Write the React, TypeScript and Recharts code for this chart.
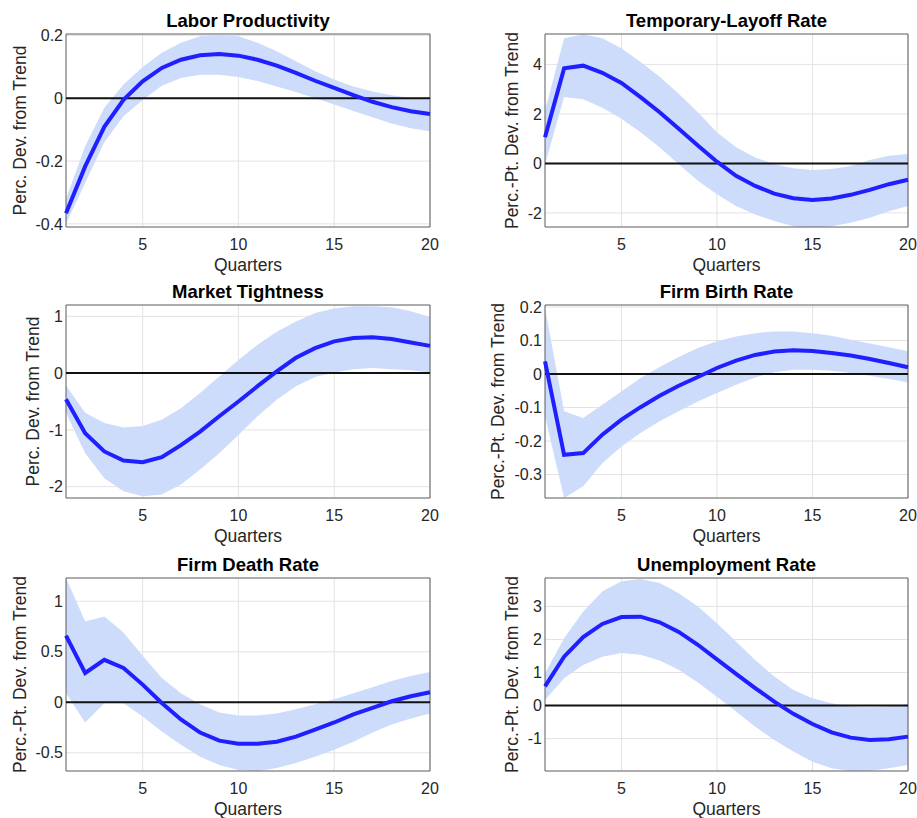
import React from "react";
import {
  Area,
  CartesianGrid,
  ComposedChart,
  Line,
  ReferenceArea,
  ReferenceLine,
  XAxis,
  YAxis,
} from "recharts";

const quarters = [1, 2, 3, 4, 5, 6, 7, 8, 9, 10, 11, 12, 13, 14, 15, 16, 17, 18, 19, 20];
const quarterTicks = [5, 10, 15, 20];

const laborMid = [-0.366, -0.217, -0.091, -0.005, 0.054, 0.097, 0.123, 0.137, 0.141, 0.136, 0.123, 0.104, 0.081, 0.056, 0.033, 0.01, -0.011, -0.028, -0.041, -0.05];
const laborHi = [-0.32, -0.153, -0.03, 0.044, 0.1, 0.145, 0.177, 0.198, 0.203, 0.198, 0.177, 0.15, 0.118, 0.086, 0.06, 0.038, 0.022, 0.01, 0.001, -0.004];
const laborLo = [-0.4, -0.27, -0.14, -0.057, -0.005, 0.04, 0.065, 0.075, 0.075, 0.068, 0.055, 0.038, 0.02, 0.0, -0.02, -0.04, -0.06, -0.08, -0.095, -0.105];

const layoffMid = [1.06, 3.84, 3.95, 3.66, 3.25, 2.68, 2.07, 1.4, 0.72, 0.07, -0.5, -0.91, -1.22, -1.41, -1.48, -1.42, -1.27, -1.07, -0.84, -0.66];
const layoffHi = [2.14, 5.06, 5.22, 5.06, 4.65, 4.1, 3.5, 2.82, 2.07, 1.26, 0.65, 0.24, -0.03, -0.2, -0.27, -0.23, -0.1, 0.14, 0.31, 0.38];
const layoffLo = [-0.03, 2.68, 2.59, 2.25, 1.8, 1.26, 0.65, -0.03, -0.7, -1.25, -1.72, -2.06, -2.33, -2.54, -2.6, -2.54, -2.4, -2.2, -1.93, -1.72];

const tightMid = [-0.46, -1.06, -1.38, -1.54, -1.57, -1.48, -1.27, -1.03, -0.76, -0.5, -0.23, 0.03, 0.27, 0.44, 0.56, 0.62, 0.63, 0.6, 0.54, 0.48];
const tightHi = [-0.22, -0.7, -0.88, -0.96, -0.93, -0.82, -0.62, -0.35, -0.06, 0.23, 0.5, 0.73, 0.91, 1.06, 1.14, 1.18, 1.18, 1.16, 1.09, 0.99];
const tightLo = [-0.7, -1.41, -1.85, -2.08, -2.17, -2.14, -1.96, -1.7, -1.41, -1.09, -0.76, -0.47, -0.23, -0.07, 0.01, 0.07, 0.09, 0.07, 0.05, 0.01];

const birthMid = [0.038, -0.241, -0.236, -0.181, -0.136, -0.099, -0.065, -0.035, -0.009, 0.018, 0.04, 0.057, 0.067, 0.071, 0.069, 0.063, 0.055, 0.045, 0.033, 0.02];
const birthHi = [0.197, -0.111, -0.131, -0.092, -0.052, -0.012, 0.021, 0.051, 0.078, 0.098, 0.112, 0.122, 0.127, 0.127, 0.122, 0.114, 0.102, 0.091, 0.08, 0.068];
const birthLo = [-0.126, -0.37, -0.335, -0.266, -0.216, -0.176, -0.141, -0.111, -0.082, -0.057, -0.032, -0.01, 0.005, 0.013, 0.013, 0.01, 0.003, -0.005, -0.015, -0.025];

const deathMid = [0.66, 0.29, 0.42, 0.34, 0.175, -0.007, -0.17, -0.3, -0.38, -0.41, -0.41, -0.39, -0.34, -0.27, -0.2, -0.12, -0.056, 0.01, 0.06, 0.1];
const deathHi = [1.23, 0.8, 0.85, 0.69, 0.46, 0.24, 0.09, -0.02, -0.1, -0.13, -0.13, -0.11, -0.07, -0.02, 0.03, 0.09, 0.15, 0.21, 0.26, 0.3];
const deathLo = [0.09, -0.2, -0.01, -0.01, -0.14, -0.29, -0.42, -0.54, -0.62, -0.67, -0.68, -0.65, -0.6, -0.54, -0.47, -0.39, -0.3, -0.22, -0.16, -0.11];

const unempMid = [0.58, 1.48, 2.07, 2.47, 2.68, 2.69, 2.52, 2.23, 1.84, 1.4, 0.96, 0.53, 0.12, -0.25, -0.56, -0.81, -0.97, -1.04, -1.02, -0.94];
const unempHi = [0.98, 2.04, 2.85, 3.45, 3.76, 3.83, 3.71, 3.4, 3.0, 2.49, 1.94, 1.38, 0.88, 0.47, 0.22, 0.07, -0.03, -0.05, -0.03, 0.05];
const unempLo = [0.17, 0.83, 1.23, 1.48, 1.59, 1.54, 1.36, 1.08, 0.7, 0.27, -0.18, -0.64, -1.04, -1.39, -1.7, -1.9, -1.98, -1.97, -1.9, -1.8];

const FONT = "'Liberation Sans', Arial, Helvetica, sans-serif";
const TEXT = "#262626";

type Panel = {
  title: string;
  yLabel: string;
  domain: [number, number];
  ticks: number[];
  mid: number[];
  lo: number[];
  hi: number[];
  labelOffset: number;
  col: number;
  row: number;
};

const panels: Panel[] = [
  { title: "Labor Productivity", yLabel: "Perc. Dev. from Trend", domain: [-0.41, 0.205], ticks: [-0.4, -0.2, 0, 0.2], mid: laborMid, lo: laborLo, hi: laborHi, labelOffset: 20, col: 0, row: 0 },
  { title: "Temporary-Layoff Rate", yLabel: "Perc.-Pt. Dev. from Trend", domain: [-2.57, 5.23], ticks: [-2, 0, 2, 4], mid: layoffMid, lo: layoffLo, hi: layoffHi, labelOffset: 33, col: 1, row: 0 },
  { title: "Market Tightness", yLabel: "Perc. Dev. from Trend", domain: [-2.2, 1.2], ticks: [-2, -1, 0, 1], mid: tightMid, lo: tightLo, hi: tightHi, labelOffset: 33, col: 0, row: 1 },
  { title: "Firm Birth Rate", yLabel: "Perc.-Pt. Dev. from Trend", domain: [-0.37, 0.206], ticks: [-0.3, -0.2, -0.1, 0, 0.1, 0.2], mid: birthMid, lo: birthLo, hi: birthHi, labelOffset: 19, col: 1, row: 1 },
  { title: "Firm Death Rate", yLabel: "Perc.-Pt. Dev. from Trend", domain: [-0.68, 1.23], ticks: [-0.5, 0, 0.5, 1], mid: deathMid, lo: deathLo, hi: deathHi, labelOffset: 20, col: 0, row: 2 },
  { title: "Unemployment Rate", yLabel: "Perc.-Pt. Dev. from Trend", domain: [-1.98, 3.86], ticks: [-1, 0, 1, 2, 3], mid: unempMid, lo: unempLo, hi: unempHi, labelOffset: 33, col: 1, row: 2 },
];

const colLeft = [0, 479];
const colWidth = [440, 438];
const rowTop = [0, 271, 544];
const CHART_H = 280;
const BOTTOM = 8;
const Y_W = 66;
const X_H = 45;
const TOP = 34;

function IrfPanel({ p }: { p: Panel }) {
  const data = quarters.map((q, i) => ({ q, mid: p.mid[i], band: [p.lo[i], p.hi[i]] }));
  const left = colLeft[p.col];
  const width = colWidth[p.col];
  const right = p.col === 0 ? 10 : 9;
  const top = rowTop[p.row];
  const plotLeft = left + Y_W;
  const plotWidth = width - Y_W - right;
  return (
    <>
      <div
        style={{
          position: "absolute",
          left: plotLeft,
          top: top + 12,
          width: plotWidth,
          textAlign: "center",
          fontFamily: FONT,
          fontWeight: "bold",
          fontSize: 18.5,
          lineHeight: "18.5px",
          color: "#000",
          whiteSpace: "nowrap",
        }}
      >
        {p.title}
      </div>
      <div style={{ position: "absolute", left, top }}>
        <ComposedChart
          width={width}
          height={CHART_H}
          data={data}
          margin={{ top: TOP, right, bottom: BOTTOM, left: 0 }}
        >
          <CartesianGrid stroke="#e3e3e3" strokeWidth={1} horizontalValues={p.ticks} verticalValues={quarterTicks} />
          <XAxis
            dataKey="q"
            type="number"
            domain={[1, 20]}
            ticks={quarterTicks}
            height={X_H}
            tickSize={0}
            tickMargin={12}
            axisLine={false}
            tickLine={false}
            tick={{ fill: TEXT, fontSize: 16, fontFamily: FONT }}
            label={{ value: "Quarters", position: "insideBottom", offset: 1, fill: TEXT, fontSize: 17.5, fontFamily: FONT }}
          />
          <YAxis
            type="number"
            domain={p.domain}
            ticks={p.ticks}
            allowDataOverflow
            width={Y_W}
            tickSize={0}
            tickMargin={3}
            axisLine={false}
            tickLine={false}
            tick={{ fill: TEXT, fontSize: 16, fontFamily: FONT }}
            label={{
              value: p.yLabel,
              angle: -90,
              position: "insideLeft",
              offset: p.labelOffset,
              fill: TEXT,
              fontSize: 17.5,
              fontFamily: FONT,
              style: { textAnchor: "middle" },
            }}
          />
          <Area
            dataKey="band"
            type="linear"
            fill="#cddcfb"
            fillOpacity={1}
            stroke="none"
            isAnimationActive={false}
          />
          <ReferenceLine y={0} stroke="#111" strokeWidth={2} />
          <Line
            dataKey="mid"
            type="linear"
            stroke="#1f1fff"
            strokeWidth={4}
            dot={false}
            isAnimationActive={false}
          />
          <ReferenceArea
            x1={1}
            x2={20}
            y1={p.domain[0]}
            y2={p.domain[1]}
            fill="none"
            stroke="#5a5a5a"
            strokeWidth={1}
            ifOverflow="visible"
          />
        </ComposedChart>
      </div>
    </>
  );
}

export default function App() {
  return (
    <div
      style={{
        position: "absolute",
        left: 0,
        top: 0,
        width: 917,
        height: 818,
        background: "#fff",
        overflow: "hidden",
      }}
    >
      {panels.map((p) => (
        <IrfPanel key={p.title} p={p} />
      ))}
    </div>
  );
}
